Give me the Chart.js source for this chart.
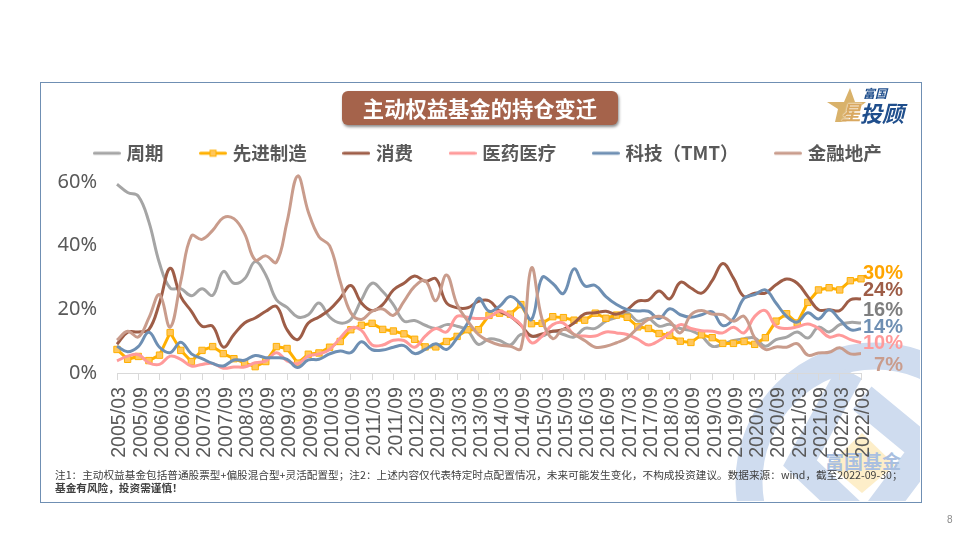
<!DOCTYPE html>
<html>
<head>
<meta charset="utf-8">
<script src="https://cdn.jsdelivr.net/npm/chart.js@4/dist/chart.umd.min.js"></script>
<style>
html, body { margin: 0; padding: 0; background: #fff; }
#page { position: relative; width: 960px; height: 540px; overflow: hidden; font-family: "Noto Sans CJK SC", "Noto Sans", sans-serif; }
#frame { position: absolute; left: 40px; top: 82px; width: 880px; height: 419px; border: 1px solid #6f8fb3; }
#mark { position: absolute; left: 0; top: 0; }
#chart { position: absolute; left: 0; top: 0; }
#title { position: absolute; left: 342px; top: 91px; width: 276px; height: 34px; line-height: 34px; background: #a5634b; border-radius: 6px; box-shadow: 1px 2px 3px rgba(0,0,0,.45); color: #fff; font-size: 21.3px; font-weight: 700; text-align: center; }
.note { position: absolute; left: 55px; font-size: 10.65px; line-height: 13px; color: #404040; white-space: nowrap; }
#note1 { top: 468px; }
#note2 { top: 481px; font-weight: 700; }
#pageNo { position: absolute; left: 947px; top: 514px; font-size: 10px; color: #8c8c8c; font-family: "Liberation Sans"; }
.logo { position: absolute; white-space: nowrap; color: #1f4e8c; font-weight: 700; font-style: italic; }
</style>
</head>
<body>
<div id="page">
  <svg id="mark" width="960" height="540">
    <defs><clipPath id="box"><rect x="41" y="83" width="879" height="418"/></clipPath></defs>
    <g clip-path="url(#box)" fill="none" stroke="#cfdcef" stroke-width="27">
      <circle cx="875" cy="482" r="126"/>
      <path d="M850 372 L800 463 L855 515"/>
      <path d="M862 398 L925 450 L880 510" stroke-width="30"/>
      <polygon points="862,433 895,465 862,493 829,465" fill="#fdeec9" stroke="none"/>
      <polygon points="850,88 855,102 866,102 856,110 846,122 835,122 838,109 827,102 844,102" fill="#d9b26b" stroke="none"/>
    </g>
    <text x="863" y="469" text-anchor="middle" font-size="19" font-weight="700" fill="#a9bfe0" font-family="Noto Sans CJK SC">富国基金</text>
  </svg>
  <div id="frame"></div>
  <canvas id="chart" width="960" height="540"></canvas>
  <div id="title">主动权益基金的持仓变迁</div>
  <div class="logo" style="left:863px;top:86px;font-size:12px;line-height:14px;">富国</div>
  <div class="logo" style="left:841px;top:99px;font-size:20px;line-height:25px;color:#d9a860;text-shadow:0 0 1px #fff,0 0 2px #fff;">星</div>
  <div class="logo" style="left:860px;top:99px;font-size:22px;line-height:26px;">投顾</div>
  <div class="note" id="note1">注1：主动权益基金包括普通股票型+偏股混合型+灵活配置型；注2：上述内容仅代表特定时点配置情况，未来可能发生变化，不构成投资建议。数据来源：wind，截至2022-09-30；</div>
  <div class="note" id="note2">基金有风险，投资需谨慎！</div>
  <div id="pageNo">8</div>
</div>
<script>
const categories = [
    '2005/03','2005/06','2005/09','2005/12','2006/03','2006/06','2006/09','2006/12',
    '2007/03','2007/06','2007/09','2007/12','2008/03','2008/06','2008/09','2008/12',
    '2009/03','2009/06','2009/09','2009/12','2010/03','2010/06','2010/09','2010/12',
    '2011/03','2011/06','2011/09','2011/12','2012/03','2012/06','2012/09','2012/12',
    '2013/03','2013/06','2013/09','2013/12','2014/03','2014/06','2014/09','2014/12',
    '2015/03','2015/06','2015/09','2015/12','2016/03','2016/06','2016/09','2016/12',
    '2017/03','2017/06','2017/09','2017/12','2018/03','2018/06','2018/09','2018/12',
    '2019/03','2019/06','2019/09','2019/12','2020/03','2020/06','2020/09','2020/12',
    '2021/03','2021/06','2021/09','2021/12','2022/03','2022/06','2022/09'
];

const cyclical = [59.3,56.7,55.6,47.5,34.5,26.7,26.5,24.3,26.5,24.4,31.9,28.2,29.6,35,30.8,23,20.6,17.6,18.3,22,17.6,15.7,16.8,23,28.2,25.6,21.5,16.3,16.5,15,14,15.2,14.7,13.3,9,10.7,10.2,8.8,12.1,11.6,11.6,13.1,12.1,11.3,14,14,16.3,17.5,18.9,16.3,17.1,14.7,15.3,14,13.3,11.6,8.4,9,10.2,10.8,11,8.4,10.5,11.3,12.9,11,14.4,12.9,15.2,15.9,15.7];
const manufacturing = [7.4,4.3,5.2,3.9,5.6,12.7,7.1,3.6,7.1,8.3,6.1,4.5,3.2,2,3.6,8.3,7.7,3.1,5.9,6.3,8.1,9.9,13.6,15,15.6,13.7,13.2,12.3,10.6,8.2,8.2,9.9,11.5,13.6,13.6,18.1,18.8,18.5,21.5,15.5,15.6,17.7,17.4,16.6,16.6,18.8,17.2,18.2,17.5,14.5,14,12.4,11.8,10,9.6,12,11.1,9.3,9.3,9.9,9,11.1,16.3,18.6,15.7,22.2,26.1,26.8,26.1,29,29.6];
const consumer = [9,12.8,12.9,13.6,22,32.9,24,19.4,14.7,14.7,8.1,12.1,15.7,17.3,19.4,20.9,13.6,10.5,15.7,17.6,19.9,23.5,27.5,22,19.6,21.5,26.1,28.2,30.5,28.8,29.6,22,20.5,20.5,22.5,22.7,19.4,17.8,15,11.6,12.3,13.1,13.7,15.7,18.6,18.9,19.4,18.5,19.9,22.6,22.9,25.8,23.3,28.5,26.7,25.1,29,34.4,29.8,24,25.1,25.1,27.7,29.5,28.2,24,19.9,19.9,19.6,23,23.3];
const pharma = [3.8,5.3,5.8,3.2,2.7,5.3,4.3,2.2,2.7,3,1.5,1.9,1.9,3.2,3.8,6.4,3.8,2.9,5.3,6,7.4,11,14.2,13.4,8.8,8.8,10.3,10.2,8.1,11.6,14,12.9,17.8,17.5,17.1,17.5,19.5,17.8,15.2,9.5,11.6,15.2,15.7,12.1,11.6,11.6,12.9,12.6,12.1,10.6,8.8,10.2,12.6,15.2,14,13.3,13.1,12.6,14.4,12.6,17.8,19.6,14.7,14,14.5,15.4,14,11.3,11.9,10.5,9.5];
const tech = [8.4,6.7,8.3,12.8,8.1,6.4,9.7,6,4.5,3,2.2,4.1,4,5.5,4.8,4.8,4.3,1.7,4.1,4.3,6,6.9,6.4,9.8,7.3,7.2,8.1,8.6,6.1,7.4,9.2,7.4,11,15.7,23.5,19.4,21,24,21.5,16.8,30,28.1,25,32.7,27.4,27.5,24,21.5,19.9,19.5,19.4,17.1,20.2,18.3,17.5,18.3,19.2,14.9,17.1,23.5,24.6,26.1,22,17.8,16,18.9,17,19.9,16.8,13.6,13.9];
const finance = [10.3,13.1,11.3,17.3,24.6,14.4,28.8,43.1,42,44.8,48.8,48.5,43.8,35.5,36.8,34.8,47.5,61.9,50.6,42.8,40,28.8,18.9,16.8,19.4,20.1,18.1,22.5,27.2,29,22.7,30.8,21.5,16.3,12.1,10,8.8,8.4,7.7,33,16.8,10.8,13.7,12.1,10.2,8.1,8.4,9.5,11,14.2,16.8,17.8,16.3,12.6,18.3,19.6,18.5,18.3,16.3,17.8,11,7.4,8.2,8.1,9.2,5.6,6.3,6.5,7.9,6,6.1];

const seriesNames = ['周期', '先进制造', '消费', '医药医疗', '科技（TMT）', '金融地产'];
const seriesValues = [cyclical, manufacturing, consumer, pharma, tech, finance];
const seriesColors = ['#a5a5a5', '#ffb000', '#9e5d47', '#ff9a9a', '#6e8fb3', '#c99c8c'];
const yTicks = [0, 20, 40, 60];
const endLabels = ['16%', '30%', '24%', '10%', '14%', '7%'];
const endLabelColors = ['#7f7f7f', '#ffa500', '#9e5d47', '#ff9a9a', '#6e8fb3', '#c99c8c'];
const endLabelShift = [-13, -5, -8, 1, -1.5, 11.5];

// legend icon: short line, square on the one series that has markers
function legendIcon(color, withMarker) {
    const c = document.createElement('canvas');
    c.width = 28;
    c.height = 12;
    const ctx = c.getContext('2d');
    ctx.strokeStyle = color;
    ctx.lineWidth = 3;
    ctx.lineCap = 'round';
    ctx.beginPath();
    ctx.moveTo(1.5, 6);
    ctx.lineTo(26.5, 6);
    ctx.stroke();
    if (withMarker) {
        ctx.fillStyle = '#ffc65c';
        ctx.lineWidth = 1;
        ctx.fillRect(11, 3, 6, 6);
        ctx.strokeRect(11, 3, 6, 6);
    }
    return c;
}

const endLabelPlugin = {
    id: 'endLabels',
    afterDatasetsDraw(chart) {
        const ctx = chart.ctx;
        const y = chart.scales.y;
        ctx.save();
        ctx.font = 'bold 20px "Liberation Sans"';
        ctx.textAlign = 'right';
        ctx.textBaseline = 'middle';
        seriesValues.forEach((vals, i) => {
            ctx.fillStyle = endLabelColors[i];
            ctx.fillText(endLabels[i], 903, y.getPixelForValue(vals[vals.length - 1]) + endLabelShift[i]);
        });
        ctx.restore();
    }
};

new Chart(document.getElementById('chart').getContext('2d'), {
    type: 'line',
    data: {
        labels: categories,
        datasets: seriesNames.map((name, i) => ({
            label: name,
            data: seriesValues[i],
            borderColor: seriesColors[i],
            backgroundColor: seriesColors[i],
            borderWidth: 3,
            tension: i === 1 ? 0 : 0.4,
            pointStyle: 'rect',
            pointRadius: i === 1 ? 4.5 : 0,
            pointBackgroundColor: '#ffc65c',
            pointBorderColor: '#ffb000',
            pointBorderWidth: 1,
            order: 6 - i
        }))
    },
    options: {
        responsive: false,
        animation: false,
        layout: {
            autoPadding: false,
            padding: { left: 45, right: 27, top: 105, bottom: 77 }
        },
        plugins: {
            tooltip: { enabled: false },
            legend: {
                position: 'top',
                align: 'center',
                labels: {
                    usePointStyle: true,
                    pointStyleWidth: 21,
                    padding: 39,
                    color: '#595959',
                    font: { family: '"Noto Sans CJK SC"', size: 18.5, weight: 'bold' },
                    sort: (a, b) => a.datasetIndex - b.datasetIndex,
                    generateLabels(chart) {
                        return Chart.defaults.plugins.legend.labels.generateLabels(chart).map(item => {
                            item.pointStyle = legendIcon(seriesColors[item.datasetIndex], item.datasetIndex === 1);
                            return item;
                        });
                    }
                }
            }
        },
        scales: {
            x: {
                offset: false,
                afterBuildTicks(scale) {
                    scale.ticks = scale.ticks.filter((t, i) => i % 2 === 0);
                },
                afterFit(scale) { scale.height = 90; },
                border: { color: '#d9d9d9', width: 1 },
                grid: { drawOnChartArea: false, color: '#d9d9d9', tickLength: 7 },
                ticks: {
                    autoSkip: false,
                    minRotation: 90,
                    maxRotation: 90,
                    padding: 7,
                    labelOffset: 3,
                    color: '#595959',
                    font: { family: '"Liberation Sans"', size: 19.6 }
                }
            },
            y: {
                min: 0,
                max: 63,
                afterBuildTicks(scale) {
                    scale.ticks = yTicks.map(v => ({ value: v }));
                },
                afterFit(scale) { scale.width = 72; },
                border: { display: false },
                grid: { display: false, drawTicks: false },
                ticks: {
                    padding: 20,
                    color: '#595959',
                    font: { family: '"Noto Sans"', size: 20 },
                    callback: v => v + '%'
                }
            },
            // empty right-hand axis: keeps room for the end labels, legend still gets the full width
            spacer: {
                type: 'linear',
                position: 'right',
                afterFit(scale) { scale.width = 72; },
                border: { display: false },
                grid: { display: false, drawTicks: false },
                ticks: { display: false }
            }
        }
    },
    plugins: [endLabelPlugin]
});
</script>
</body>
</html>
